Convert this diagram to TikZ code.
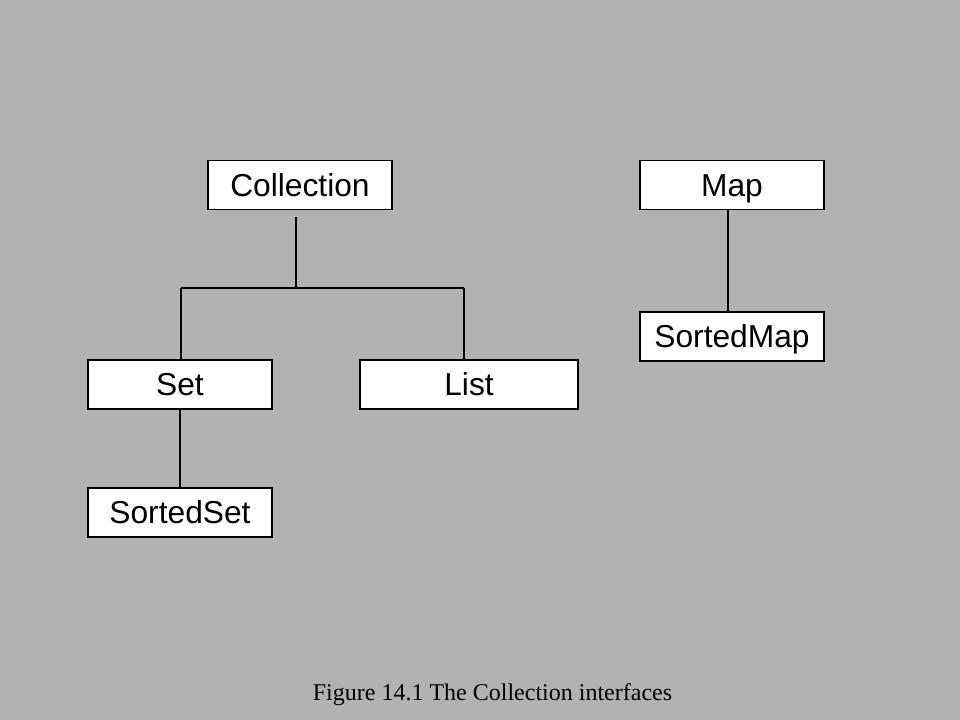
\documentclass[tikz,border=0pt]{standalone}
\usepackage{fontspec}
\setmainfont{Liberation Serif}
\newfontfamily\boxfont{Liberation Sans}
\usepackage{xcolor}
\definecolor{slide grey}{HTML}{B2B2B2}
\colorlet{box edge}{black}
\colorlet{box area}{white}
\tikzset{iface/.style={fill=box area, draw=box edge, line width=1.1pt,
        minimum height=36.75pt, inner sep=0pt, text height=17pt, text depth=0pt,
        font=\boxfont\fontsize{23.8}{28}\selectfont},
    link/.style={draw=black, line width=0.8pt}}

\begin{document}
\begin{tikzpicture}[x=0.75pt, y=-0.75pt]
    \useasboundingbox[fill=slide grey] (0,0) rectangle (960,720);
    \node[iface, minimum width=138pt] (coll)  at (300,185)   {Collection};
    \node[iface, minimum width=138pt] (map)   at (732,185)   {Map};
    \node[iface, minimum width=138pt] (smap)  at (732,336.5) {SortedMap};
    \node[iface, minimum width=138pt] (set)   at (180,384.5) {Set};
    \node[iface, minimum width=163.5pt] (list) at (469,384.5) {List};
    \node[iface, minimum width=138pt] (sset)  at (180,512.5) {SortedSet};
    % branch points
    \coordinate (top)   at (296,217);
    \coordinate (joint) at (296,288);
    \coordinate (left)  at (181,288);
    \coordinate (right) at (464,288);
    \coordinate (mline) at (728,0);
    \draw[link] (top) -- (joint);
    \draw[link] (left) -- (right);
    \draw[link] (left) -- (left |- set.north);
    \draw[link] (right) -- (right |- list.north);
    \draw[link] (set) -- (sset);
    \draw[link] (mline |- map.south) -- (mline |- smap.north);
    \node[anchor=base, font=\fontsize{18}{22}\selectfont] (caption) at (492.5,700)
        {Figure 14.1 The Collection interfaces};
\end{tikzpicture}
\end{document}
